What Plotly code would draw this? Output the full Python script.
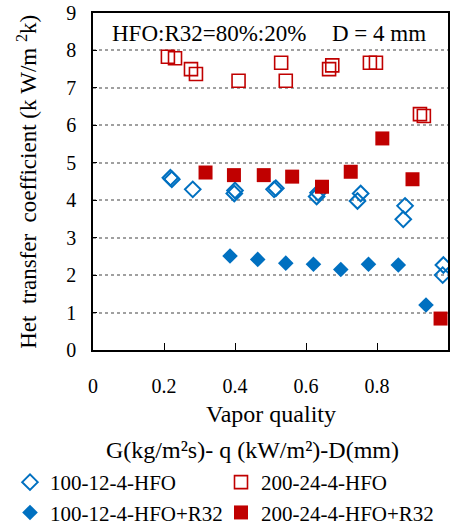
import plotly.graph_objects as go

# ---- data ----
hfo_100_x = [0.218, 0.222, 0.281, 0.400, 0.398, 0.515, 0.510, 0.630, 0.634, 0.745, 0.754, 0.879, 0.874, 0.987, 0.985]
hfo_100_y = [4.60, 4.56, 4.29, 4.26, 4.18, 4.32, 4.29, 4.10, 4.20, 3.98, 4.18, 3.85, 3.49, 2.27, 2.00]

hfo_200_x = [0.211, 0.231, 0.276, 0.290, 0.410, 0.530, 0.543, 0.665, 0.674, 0.780, 0.797, 0.921, 0.932]
hfo_200_y = [7.83, 7.79, 7.50, 7.37, 7.19, 7.67, 7.19, 7.50, 7.60, 7.67, 7.67, 6.30, 6.25]

mix_100_x = [0.386, 0.464, 0.543, 0.621, 0.698, 0.776, 0.860, 0.938]
mix_100_y = [2.51, 2.42, 2.32, 2.29, 2.15, 2.29, 2.27, 1.20]

mix_200_x = [0.317, 0.397, 0.481, 0.561, 0.645, 0.726, 0.815, 0.900, 0.979]
mix_200_y = [4.74, 4.67, 4.67, 4.63, 4.36, 4.76, 5.65, 4.56, 0.84]

names = ["100-12-4-HFO", "200-24-4-HFO", "100-12-4-HFO+R32", "200-24-4-HFO+R32"]
x_ticks = [0, 0.2, 0.4, 0.6, 0.8, 1]
x_tick_text = ["0", "0.2", "0.4", "0.6", "0.8", "1"]
y_ticks = list(range(0, 10))

BLUE = "#0070C0"
RED = "#C00000"
FONT = "Liberation Serif, Times New Roman, serif"

fig = go.Figure()
fig.add_trace(go.Scatter(x=hfo_100_x, y=hfo_100_y, mode="markers", name=names[0], legend="legend",
                         marker=dict(symbol="diamond-open", size=12, color=BLUE, line=dict(width=2, color=BLUE))))
fig.add_trace(go.Scatter(x=hfo_200_x, y=hfo_200_y, mode="markers", name=names[1], legend="legend2",
                         marker=dict(symbol="square-open", size=13, color=RED, line=dict(width=1.6, color=RED))))
fig.add_trace(go.Scatter(x=mix_100_x, y=mix_100_y, mode="markers", name=names[2], legend="legend",
                         marker=dict(symbol="diamond", size=12, color=BLUE)))
fig.add_trace(go.Scatter(x=mix_200_x, y=mix_200_y, mode="markers", name=names[3], legend="legend2",
                         marker=dict(symbol="square", size=14, color=RED)))

leg_common = dict(
    orientation="v",
    xref="container", yref="container",
    yanchor="top", xanchor="left",
    font=dict(family=FONT, size=21, color="black"),
    itemwidth=30, tracegroupgap=0,
    bgcolor="rgba(0,0,0,0)",
)

fig.update_layout(
    width=450, height=531,
    margin=dict(l=93, r=2, t=13, b=181, autoexpand=False),
    paper_bgcolor="white", plot_bgcolor="white",
    font=dict(family=FONT, size=20, color="black"),
    showlegend=True,
    legend=dict(x=10 / 450, y=1 - 462 / 531, **leg_common),
    legend2=dict(x=221 / 450, y=1 - 462 / 531, **leg_common),
    xaxis=dict(
        range=[0, 1], tickvals=x_ticks, ticktext=x_tick_text,
        ticks="inside", ticklen=7, tickwidth=1.2, tickcolor="black",
        showline=True, linecolor="black", linewidth=1.5, mirror=True,
        showgrid=False, zeroline=False, automargin=False,
        tickfont=dict(family=FONT, size=20),
        ticklabelstandoff=17,
    ),
    yaxis=dict(
        range=[0, 9], tickvals=y_ticks,
        ticks="inside", ticklen=4, tickwidth=1.2, tickcolor="black",
        showline=True, linecolor="black", linewidth=1.5, mirror=True,
        showgrid=True, gridcolor="#A0A0A0", gridwidth=1.5, griddash="dot",
        zeroline=False, automargin=False,
        tickfont=dict(family=FONT, size=20),
        ticklabelstandoff=11,
    ),
)

nb = "\u00a0"
fig.add_annotation(text="Het" + nb + " transfer" + nb + " coefficient (k" + nb + "W/m" + nb + "<sup>2</sup>k)",
                   xref="paper", yref="paper", x=-0.185, y=0.5, xanchor="center", yanchor="middle",
                   textangle=-90, showarrow=False, font=dict(family=FONT, size=23))
fig.add_annotation(text="Vapor quality", xref="paper", yref="paper", x=0.5, y=-0.19,
                   xanchor="center", yanchor="middle", showarrow=False, font=dict(family=FONT, size=24))
fig.add_annotation(text="G(kg/m²s)- q (kW/m²)-D(mm)", xref="paper", yref="paper", x=0.448, y=-0.297,
                   xanchor="center", yanchor="middle", showarrow=False, font=dict(family=FONT, size=24))
fig.add_annotation(text="HFO:R32=80%:20%", xref="paper", yref="paper", x=0.048, y=0.94,
                   xanchor="left", yanchor="middle", showarrow=False, font=dict(family=FONT, size=23))
fig.add_annotation(text="D = 4 mm", xref="paper", yref="paper", x=0.668, y=0.94,
                   xanchor="left", yanchor="middle", showarrow=False, font=dict(family=FONT, size=23))

fig.write_html("out.html", config={"displayModeBar": False},
               post_script="document.body.style.margin='0';")
